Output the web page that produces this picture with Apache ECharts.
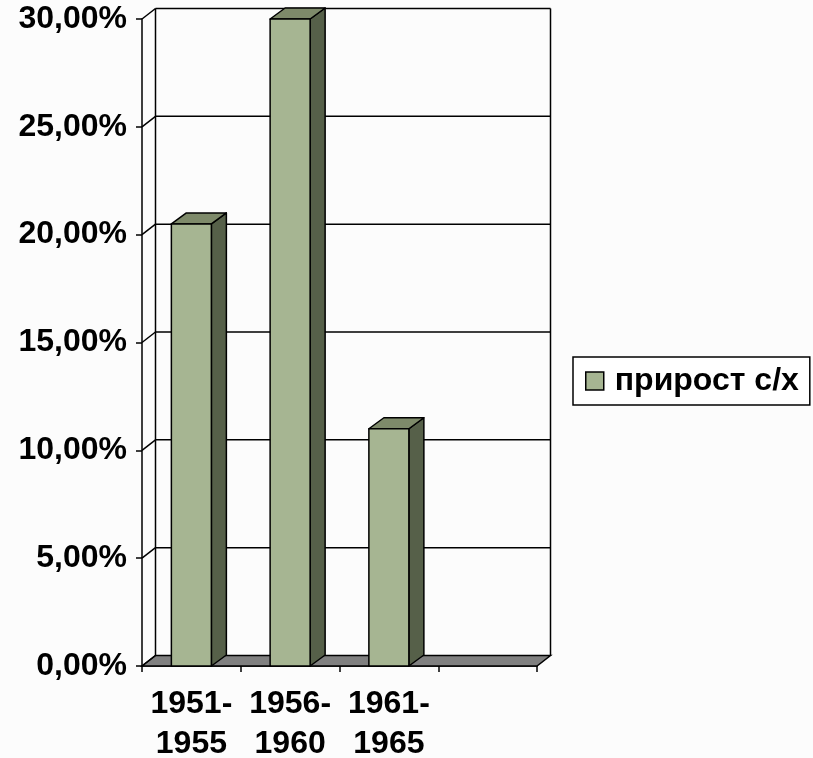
<!DOCTYPE html>
<html>
<head>
<meta charset="utf-8">
<script src="https://cdn.jsdelivr.net/npm/echarts@6/dist/echarts.min.js"></script>
<style>
  html, body { margin: 0; padding: 0; background: #fcfcfc; }
  #chart { width: 813px; height: 758px; }
</style>
</head>
<body>
<div id="chart"></div>
<script>
// категории и значения прироста
const categories = ['1951-\n1955', '1956-\n1960', '1961-\n1965', '']
const growth = [20.5, 30.0, 11.0]
const yTicks = [0, 5, 10, 15, 20, 25, 30]
const seriesName = 'прирост с/х'

// глубина "3D" в пикселях
const WALL_DX = 13.5
const WALL_DY = -10.5
const BAR_DX = 15
const BAR_DY = -11

const font = 'Arial, "Liberation Sans", sans-serif'

const chart = echarts.init(document.getElementById('chart'))

function renderWall (params, api) {
  const v = api.value(0)
  const p0 = api.coord([0, v])
  const band = api.size([1, 0])[0]
  const lx = p0[0] - band / 2
  const rx = api.coord([categories.length - 1, v])[0] + band / 2
  const y = p0[1]
  const children = []
  if (v === 0) {
    const yTop = api.coord([0, yTicks[yTicks.length - 1]])[1]
    children.push({
      type: 'polygon',
      shape: { points: [[lx, y], [rx, y], [rx + WALL_DX, y + WALL_DY], [lx + WALL_DX, y + WALL_DY]] },
      style: { fill: '#808080', stroke: '#000', lineWidth: 1.5 }
    })
    children.push({
      type: 'line',
      shape: { x1: lx + WALL_DX, y1: y + WALL_DY, x2: lx + WALL_DX, y2: yTop + WALL_DY },
      style: { stroke: '#000', lineWidth: 1.5 }
    })
    children.push({
      type: 'line',
      shape: { x1: rx + WALL_DX, y1: y + WALL_DY, x2: rx + WALL_DX, y2: yTop + WALL_DY },
      style: { stroke: '#000', lineWidth: 1.5 }
    })
  } else {
    children.push({
      type: 'line',
      shape: { x1: lx + WALL_DX, y1: y + WALL_DY, x2: rx + WALL_DX, y2: y + WALL_DY },
      style: { stroke: '#000', lineWidth: 1.5 }
    })
  }
  children.push({
    type: 'line',
    shape: { x1: lx, y1: y, x2: lx + WALL_DX, y2: y + WALL_DY },
    style: { stroke: '#000', lineWidth: 1.5 }
  })
  return { type: 'group', children: children }
}

function renderBar (params, api) {
  const base = api.coord([api.value(0), 0])
  const top = api.coord([api.value(0), api.value(1)])
  const w = api.size([1, 0])[0] * 0.405
  const x0 = base[0] - w / 2
  const x1 = base[0] + w / 2
  const by = base[1]
  const ty = top[1]
  const edge = { stroke: '#000', lineWidth: 1.5, lineJoin: 'round' }
  return {
    type: 'group',
    children: [
      {
        type: 'polygon',
        shape: { points: [[x1, ty], [x1 + BAR_DX, ty + BAR_DY], [x1 + BAR_DX, by + BAR_DY], [x1, by]] },
        style: Object.assign({ fill: '#566049' }, edge)
      },
      {
        type: 'polygon',
        shape: { points: [[x0, ty], [x1, ty], [x1 + BAR_DX, ty + BAR_DY], [x0 + BAR_DX, ty + BAR_DY]] },
        style: Object.assign({ fill: '#7e8a6a' }, edge)
      },
      {
        type: 'rect',
        shape: { x: x0, y: ty, width: w, height: by - ty },
        style: Object.assign({ fill: '#a6b592' }, edge)
      }
    ]
  }
}

const option = {
  backgroundColor: '#fcfcfc',
  animation: false,
  grid: {
    left: 142,
    right: 276,
    top: 19,
    bottom: 92,
    outerBoundsMode: 'none'
  },
  legend: {
    left: 573,
    top: 357,
    orient: 'vertical',
    padding: [8, 11, 8, 12],
    borderColor: '#000',
    borderWidth: 1.5,
    backgroundColor: '#fff',
    itemWidth: 18,
    itemHeight: 18,
    textStyle: { fontFamily: font, fontWeight: 'bold', fontSize: 32, color: '#000', padding: [0, 0, 0, 6] },
    data: [{ name: seriesName, icon: 'rect', itemStyle: { color: '#a6b592', borderColor: '#000', borderWidth: 1.5 } }]
  },
  xAxis: {
    type: 'category',
    data: categories,
    axisLine: { show: true, lineStyle: { color: '#000', width: 1.5 } },
    axisTick: { show: true, length: 6, lineStyle: { color: '#000', width: 1.5 } },
    axisLabel: {
      interval: 0,
      margin: 18,
      fontFamily: font,
      fontWeight: 'bold',
      fontSize: 32,
      lineHeight: 40,
      color: '#000'
    },
    splitLine: { show: false }
  },
  yAxis: {
    type: 'value',
    min: 0,
    max: 30,
    interval: 5,
    axisLine: { show: true, lineStyle: { color: '#000', width: 1.5 } },
    axisTick: { show: true, length: 6, lineStyle: { color: '#000', width: 1.5 } },
    axisLabel: {
      margin: 15,
      fontFamily: font,
      fontWeight: 'bold',
      fontSize: 32,
      color: '#000',
      formatter: v => v.toFixed(2).replace('.', ',') + '%'
    },
    splitLine: { show: false }
  },
  series: [
    {
      name: 'walls',
      type: 'custom',
      silent: true,
      renderItem: renderWall,
      data: yTicks.map(v => [v]),
      encode: { y: 0 },
      clip: false
    },
    {
      name: seriesName,
      type: 'custom',
      renderItem: renderBar,
      itemStyle: { color: '#a6b592' },
      data: growth.map((v, i) => [i, v]),
      encode: { x: 0, y: 1 },
      clip: false
    }
  ]
}

chart.setOption(option)
</script>
</body>
</html>
